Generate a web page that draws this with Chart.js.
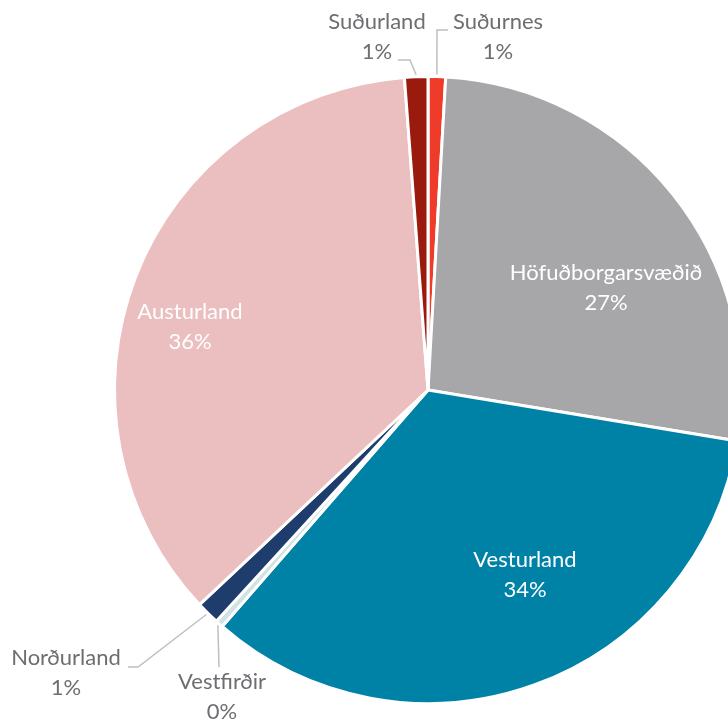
<!DOCTYPE html>
<html>
<head>
<meta charset="utf-8">
<script src="https://cdn.jsdelivr.net/npm/chart.js@4/dist/chart.umd.min.js"></script>
<style>
  html, body { margin: 0; padding: 0; background: #fff; overflow: hidden; }
  #wrap { width: 728px; height: 722px; overflow: hidden; position: relative; }
  #wrap canvas { position: absolute; left: 0; top: 0; }
</style>
</head>
<body>
<div id="wrap"><canvas id="pie" width="758" height="722"></canvas></div>
<script>
// Data
const regions = ["Suðurnes", "Höfuðborgarsvæðið", "Vesturland", "Vestfirðir", "Norðurland", "Austurland", "Suðurland"];
const shares = [0.9, 26.7, 33.8, 0.4, 1.2, 35.8, 1.2];
const sliceColors = ["#EE3B2A", "#A7A7AA", "#0082A7", "#CFE2E5", "#1E3D6C", "#EBBEBF", "#9A1B0E"];

// label placement (offsets from pie center, px); inside labels are white
const labelSpots = [
  { out: true, text: [70, -353], elbow: [9, -360], end: [20, -360] },
  { out: false, text: [178, -102] },
  { out: false, text: [97, 185] },
  { out: true, text: [-206, 307], elbow: [-209, 277], end: [-209, 277] },
  { out: true, text: [-362, 283], elbow: [-290, 277], end: [-300, 277] },
  { out: false, text: [-238, -63] },
  { out: true, text: [-51, -353], elbow: [-18, -330], end: [-30, -330] }
];

const total = shares.reduce((a, b) => a + b, 0);

const pieLabels = {
  id: "pieLabels",
  afterDatasetsDraw(chart) {
    const ctx = chart.ctx;
    const meta = chart.getDatasetMeta(0);
    ctx.save();
    ctx.font = "22px Lato, 'Open Sans', sans-serif";
    ctx.textAlign = "center";
    ctx.textBaseline = "middle";
    meta.data.forEach((arc, i) => {
      const spot = labelSpots[i];
      const cx = arc.x, cy = arc.y;
      const pct = Math.round(shares[i] / total * 100) + "%";
      const tx = cx + spot.text[0], ty = cy + spot.text[1];
      if (spot.out) {
        const mid = (arc.startAngle + arc.endAngle) / 2;
        const r = arc.outerRadius + 2;
        ctx.strokeStyle = "#BFBFBF";
        ctx.lineWidth = 1.5;
        ctx.beginPath();
        ctx.moveTo(cx + Math.cos(mid) * r, cy + Math.sin(mid) * r);
        ctx.lineTo(cx + spot.elbow[0], cy + spot.elbow[1]);
        ctx.lineTo(cx + spot.end[0], cy + spot.end[1]);
        ctx.stroke();
        ctx.fillStyle = "#6E6E72";
      } else {
        ctx.fillStyle = "#FFFFFF";
      }
      ctx.fillText(regions[i], tx, ty - 15);
      ctx.fillText(pct, tx, ty + 15);
    });
    ctx.restore();
  }
};

new Chart(document.getElementById("pie"), {
  type: "pie",
  data: {
    labels: regions,
    datasets: [{
      data: shares,
      backgroundColor: sliceColors,
      borderColor: "#FFFFFF",
      borderWidth: 3
    }]
  },
  options: {
    responsive: false,
    animation: false,
    layout: { padding: { left: 113, right: 15, top: 75, bottom: 17 } },
    plugins: {
      legend: { display: false },
      tooltip: { enabled: false }
    }
  },
  plugins: [pieLabels]
});
</script>
</body>
</html>
